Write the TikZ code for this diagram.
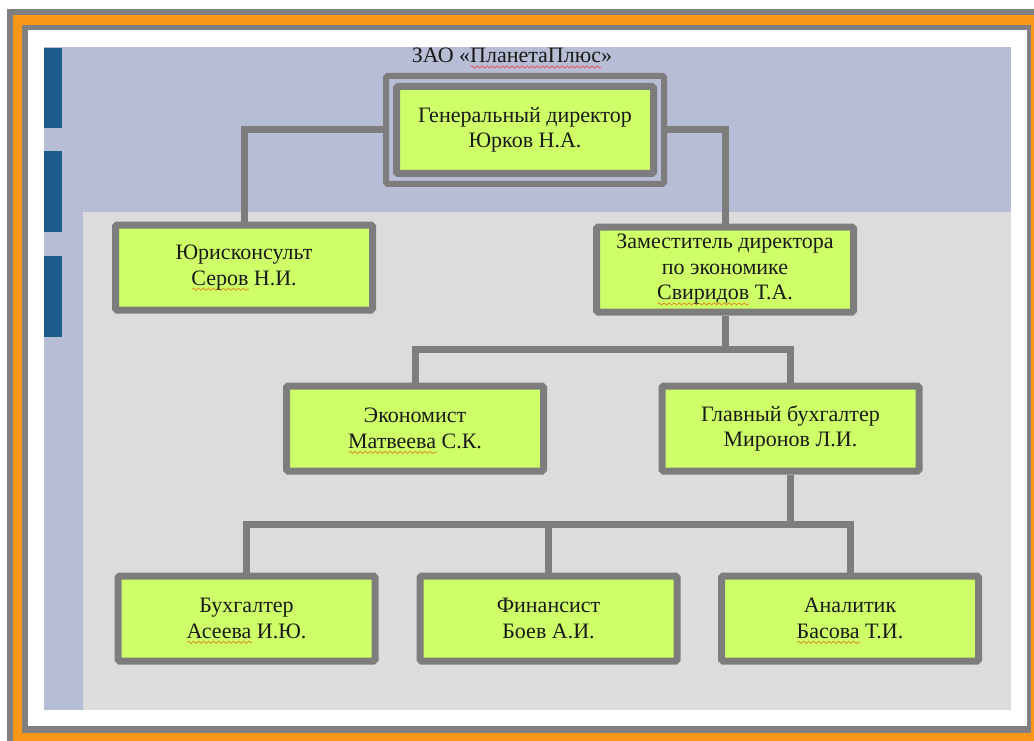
\documentclass[tikz,border=0pt]{standalone}
\usepackage{fontspec}
\setmainfont{Liberation Serif}
\usetikzlibrary{fit,decorations.pathmorphing}
\definecolor{lav}{RGB}{184,189,214}
\definecolor{lgray}{RGB}{220,220,220}
\definecolor{dblue}{RGB}{28,92,140}
\definecolor{orng}{RGB}{247,150,25}
\definecolor{frgray}{RGB}{128,128,128}
\definecolor{boxgreen}{RGB}{206,255,104}
\definecolor{boxline}{RGB}{125,125,125}
\definecolor{txt}{RGB}{25,25,25}
\definecolor{sqred}{RGB}{225,95,105}
\definecolor{sqyel}{RGB}{215,155,35}
\newsavebox\sqwordbox
\newcommand\squig[2]{\sbox\sqwordbox{#2}\rlap{\smash{\tikz[baseline=0pt]\draw[#1, fill=none, sharp corners, line width=0.9pt, decorate, decoration={snake, amplitude=1.1pt, segment length=5pt}] (0pt,-4pt) -- (\wd\sqwordbox,-4pt);}}\usebox\sqwordbox}
\newcommand\sqr[1]{\squig{sqred}{#1}}
\newcommand\sqy[1]{\squig{sqyel}{#1}}
\tikzset{
  orgbox/.style={draw=boxline, fill=boxgreen, line width=7pt, minimum width=257pt,
    minimum height=85pt, align=center, text=txt, inner sep=0pt, rounded corners=1.5pt,
    font=\fontsize{22}{25.5}\selectfont},
  conn/.style={draw=boxline, line width=7pt},
  genframe/.style={draw=boxline, line width=6pt, inner sep=7pt, rounded corners=1.5pt}
}
\begin{document}
\begin{tikzpicture}[x=1pt, y=-1pt]
\useasboundingbox (0,0) rectangle (1034,741);
% frame
\fill[frgray] (7,9) rectangle (1040,750);
\fill[orng] (13,15) rectangle (1040,750);
\fill[frgray] (22,25) rectangle (1031,733);
\fill[white] (28,30) rectangle (1027,726);
% background panels
\fill[lav] (44,47) rectangle (1011,710);
\fill[lgray] (83,212) rectangle (1011,710);
\fill[dblue] (44,48) rectangle (62,128);
\fill[dblue] (44,151) rectangle (62,232);
\fill[dblue] (44,256) rectangle (62,337);
% title
\node[anchor=base, text=txt, font=\fontsize{22}{25}\selectfont, inner sep=0pt] (title) at (512,63) {ЗАО «\sqr{ПланетаПлюс}»};
% nodes
\node[orgbox, minimum height=87pt] (gen) at (525,130) {Генеральный директор\\Юрков Н.А.};
\node[genframe, fit=(gen)] (genf) {};
\node[orgbox] (jur) at (244,267.5) {Юрисконсульт\\\sqy{Серов} Н.И.};
\node[orgbox] (zam) at (725,269.5) {Заместитель директора\\по экономике\\\sqy{Свиридов} Т.А.};
\node[orgbox] (econ) at (415,428.5) {Экономист\\\sqy{Матвеева} С.К.};
\node[orgbox] (glav) at (790.5,428.5) {Главный бухгалтер\\Миронов Л.И.};
\node[orgbox] (buh) at (246.5,618.5) {Бухгалтер\\\sqy{Асеева} И.Ю.};
\node[orgbox] (fin) at (548.5,618.5) {Финансист\\Боев А.И.};
\node[orgbox] (anal) at (850,618.5) {Аналитик\\\sqy{Басова} Т.И.};
% connectors
\coordinate (bus1) at (725,349);
\coordinate (bus2) at (790.5,524);
\draw[conn] (genf.west) -| (jur.north);
\draw[conn] (genf.east) -| (zam.north);
\draw[conn] (zam.south) -- (bus1);
\draw[conn] (econ.north) |- (bus1) -| (glav.north);
\draw[conn] (glav.south) -- (bus2);
\draw[conn] (buh.north) |- (bus2) -| (anal.north);
\draw[conn] (fin.north) -- (fin.north |- bus2);
\end{tikzpicture}
\end{document}
